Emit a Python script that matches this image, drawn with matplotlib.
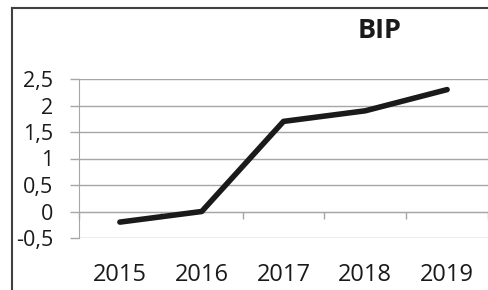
import matplotlib
matplotlib.use("Agg")
import matplotlib.pyplot as plt
from matplotlib.lines import Line2D
import numpy as np

# Daten
years = ["2015", "2016", "2017", "2018", "2019"]
bip = [-0.2, 0.0, 1.7, 1.9, 2.3]
yticks = [-0.5, 0, 0.5, 1, 1.5, 2, 2.5]
ylabels = ["-0,5", "0", "0,5", "1", "1,5", "2", "2,5"]

plt.rcParams['font.family'] = ['Open Sans', 'DejaVu Sans']

fig = plt.figure(figsize=(4.88, 2.9), dpi=100)
ax = fig.add_axes([79 / 488, 1 - 238 / 290, 409 / 488, 159 / 290])

x = np.arange(len(years))
ax.plot(x, bip, color="#1a1a1a", lw=4.0, solid_capstyle="round",
        solid_joinstyle="round", zorder=3)

ax.set_xlim(-0.5, len(years) - 0.5)
ax.set_ylim(-0.5, 2.5)

# Gitterlinien
ax.set_yticks(yticks)
ax.set_yticklabels(ylabels, fontsize=15.5, color="#1a1a1a")
ax.yaxis.grid(True, color="#a6a6a6", lw=1.0)
ax.tick_params(axis="y", length=6.5, width=1.0, color="#a6a6a6", pad=12)

# x-Achse bei 0
ax.spines["bottom"].set_position(("data", 0))
ax.spines["bottom"].set_color("#a6a6a6")
ax.spines["left"].set_color("#a6a6a6")
ax.spines["top"].set_visible(False)
ax.spines["right"].set_visible(False)
ax.set_xticks(x)
ax.set_xticklabels(years, fontsize=17, color="#1a1a1a")
ax.set_xticks(np.arange(len(years) + 1) - 0.5, minor=True)
ax.tick_params(axis="x", which="major", length=0, pad=37)
ax.tick_params(axis="x", which="minor", length=5, width=1.0, color="#a6a6a6")
ax.set_axisbelow(True)

fig.text(380 / 488, 1 - 31 / 290, "BIP", fontsize=19.5, fontweight="bold",
         ha="center", va="center", color="#1a1a1a")

# Rahmen
fig.add_artist(Line2D([12 / 488, 12 / 488], [0, 1 - 8 / 290],
                      transform=fig.transFigure, color="#404040", lw=1.5))
fig.add_artist(Line2D([12 / 488, 1], [1 - 8 / 290, 1 - 8 / 290],
                      transform=fig.transFigure, color="#404040", lw=1.5))

fig.savefig("out.png", dpi=100)
